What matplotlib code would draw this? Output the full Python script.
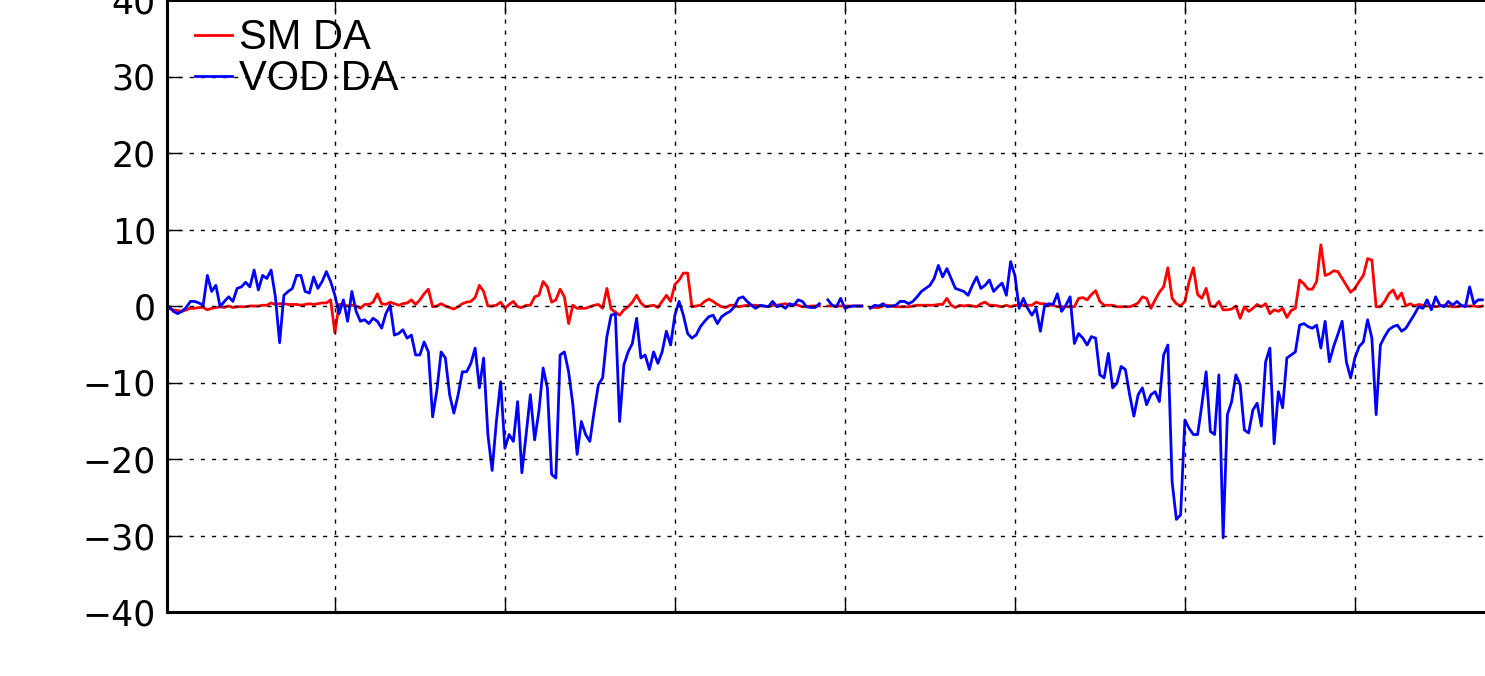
import matplotlib.pyplot as plt
import numpy as np

nan = np.nan

# SM DA series (one value per sample)
sm_da = [
    -0.3, -0.5, -0.6, -0.7, -0.5, -0.3, -0.3, -0.2, -0.2, -0.5,
    -0.3, -0.2, -0.1, -0.2, 0.0, -0.2, -0.1, -0.1, -0.1, 0.0,
    0.0, 0.0, 0.1, 0.1, 0.4, 0.2, 0.3, 0.3, 0.2, 0.2,
    0.2, 0.1, 0.2, 0.3, 0.2, 0.3, 0.4, 0.4, 0.8, -3.5,
    0.2, 0.2, 0.0, 0.1, 0.0, -0.3, 0.2, 0.2, 0.5, 1.6,
    0.3, 0.2, 0.5, 0.3, 0.1, 0.3, 0.4, 0.8, 0.2, 0.8,
    1.6, 2.2, -0.1, 0.0, 0.3, 0.0, -0.2, -0.4, -0.1, 0.3,
    0.5, 0.6, 1.1, 2.7, 1.9, 0.0, 0.0, 0.1, 0.5, -0.3,
    0.2, 0.6, -0.1, -0.2, 0.1, 0.1, 1.2, 1.4, 3.2, 2.5,
    0.5, 0.8, 2.2, 1.2, -2.3, 0.1, -0.3, -0.3, -0.3, -0.1,
    0.1, 0.2, -0.3, 2.3, -0.4, -0.8, -1.2, -0.5, -0.1, 0.5,
    1.4, 0.4, -0.1, 0.0, 0.1, -0.2, 0.6, 1.4, 0.6, 2.8,
    3.4, 4.3, 4.3, -0.1, 0.0, 0.1, 0.6, 0.9, 0.6, 0.2,
    -0.1, -0.2, 0.1, 0.1, -0.1, 0.0, 0.1, 0.1, 0.1, 0.0,
    0.0, -0.1, 0.1, 0.1, 0.2, 0.3, 0.1, 0.2, 0.1, -0.1,
    -0.1, 0.0, 0.0, 0.0, nan, 0.0, 0.0, 0.0, 0.0, 0.0,
    0.0, 0.0, 0.0, 0.0, nan, -0.2, -0.2, -0.2, 0.0, 0.1,
    0.0, -0.1, -0.1, -0.1, -0.1, 0.0, 0.1, 0.1, 0.1, 0.1,
    0.1, 0.2, 0.2, 1.0, 0.1, -0.2, 0.1, 0.0, 0.1, 0.0,
    -0.1, 0.3, 0.5, 0.1, 0.1, 0.0, -0.1, 0.1, -0.1, 0.1,
    0.1, 0.1, 0.1, 0.1, 0.5, 0.3, 0.3, 0.1, 0.1, -0.1,
    -0.1, -0.1, -0.1, -0.1, 1.0, 1.1, 0.8, 1.5, 2.0, 0.6,
    0.1, 0.1, 0.1, -0.1, -0.1, -0.1, -0.1, 0.1, 0.4, 1.2,
    1.0, -0.3, 0.8, 1.8, 2.5, 5.0, 1.0, 0.3, 0.0, 0.6,
    3.2, 5.0, 1.5, 1.0, 2.3, 0.0, -0.1, 0.6, -0.5, -0.5,
    -0.4, 0.0, -1.6, -0.1, -0.7, -0.3, 0.2, -0.1, 0.3, -1.0,
    -0.5, -0.7, -0.3, -1.5, -0.6, -0.3, 3.4, 2.9, 2.2, 2.2,
    3.2, 8.0, 4.0, 4.2, 4.6, 4.5, 3.6, 2.7, 1.8, 2.3,
    3.2, 4.0, 6.2, 6.0, -0.1, -0.1, 0.6, 1.6, 2.1, 0.9,
    1.7, 0.0, 0.3, 0.0, 0.2, 0.1, 0.0, 0.0, -0.1, 0.0,
    0.1, 0.0, -0.1, -0.1, 0.0, 0.0, 0.0, 0.0, -0.1, 0.0,
]

# VOD DA series
vod_da = [
    -0.1, -0.7, -1.0, -0.7, -0.2, 0.6, 0.6, 0.4, 0.1, 4.0,
    1.9, 2.7, -0.1, 0.6, 1.2, 0.6, 2.3, 2.5, 3.1, 2.5,
    4.7, 2.1, 4.0, 3.6, 4.7, 1.2, -4.8, 1.4, 1.9, 2.3,
    4.0, 4.0, 1.9, 1.7, 3.8, 2.3, 3.2, 4.5, 3.2, 1.4,
    -1.0, 0.8, -2.0, 1.9, -0.7, -2.0, -1.8, -2.3, -1.6, -2.0,
    -2.9, -1.0, 0.1, -3.8, -3.6, -3.1, -4.2, -3.8, -6.4, -6.4,
    -4.7, -6.0, -14.5, -11.0, -6.0, -6.8, -11.6, -14.0, -11.6, -8.6,
    -8.6, -7.5, -5.5, -10.7, -6.8, -16.8, -21.5, -15.1, -9.9, -18.6,
    -16.8, -17.7, -12.5, -21.8, -16.8, -11.6, -17.5, -13.8, -8.1, -10.7,
    -22.0, -22.5, -6.4, -6.0, -8.6, -12.9, -19.4, -15.1, -16.8, -17.7,
    -13.8, -10.3, -9.4, -4.0, -1.2, -1.0, -15.1, -7.7, -6.0, -4.9,
    -1.6, -6.8, -6.4, -8.3, -6.0, -7.5, -6.0, -3.3, -5.1, -1.2,
    0.6, -1.2, -3.6, -4.2, -3.8, -2.7, -2.0, -1.4, -1.2, -2.3,
    -1.4, -1.0, -0.7, -0.1, 1.0, 1.2, 0.6, 0.1, -0.3, 0.1,
    0.0, -0.1, 0.6, -0.1, 0.1, -0.3, 0.3, 0.1, 0.8, 0.6,
    -0.1, -0.2, -0.2, 0.3, nan, 0.8, 0.1, -0.1, 1.0, -0.3,
    -0.1, 0.0, 0.0, 0.0, nan, -0.3, 0.1, 0.0, 0.3, -0.1,
    0.0, 0.1, 0.6, 0.6, 0.3, 0.6, 1.2, 1.9, 2.3, 2.7,
    3.6, 5.3, 3.8, 4.9, 3.6, 2.3, 2.1, 1.9, 1.4, 2.7,
    3.8, 2.3, 2.7, 3.4, 1.9, 2.5, 3.0, 1.4, 5.8, 4.0,
    -0.3, 1.0, -0.3, -1.2, -0.3, -3.3, 0.1, 0.3, 0.2, 1.6,
    -0.7, 0.1, 1.2, -4.9, -3.6, -4.2, -5.1, -4.0, -4.2, -9.0,
    -9.4, -6.2, -10.7, -10.1, -7.9, -8.3, -11.6, -14.4, -11.6, -10.7,
    -12.9, -11.6, -11.2, -12.5, -6.4, -5.1, -23.0, -27.9, -27.3, -14.9,
    -16.0, -16.8, -16.8, -12.9, -8.6, -16.4, -16.8, -9.0, -30.3, -14.2,
    -12.5, -9.0, -10.3, -16.2, -16.6, -13.6, -12.7, -15.7, -7.3, -5.5,
    -18.0, -11.2, -13.3, -6.8, -6.4, -6.0, -2.5, -2.3, -2.7, -2.9,
    -2.5, -5.5, -2.0, -7.3, -5.3, -3.7, -2.0, -7.3, -9.4, -6.8,
    -5.3, -4.7, -1.8, -4.2, -14.2, -5.1, -4.0, -3.1, -2.7, -2.5,
    -3.3, -2.9, -2.0, -1.1, -0.1, -0.3, 0.8, -0.5, 1.2, 0.1,
    -0.1, 0.6, 0.1, 0.6, 0.1, -0.1, 2.5, 0.3, 0.8, 0.8,
]

y_ticks = [-40, -30, -20, -10, 0, 10, 20, 30, 40]
x_ticks = [40, 80, 120, 160, 200, 240, 280]

assert len(sm_da) == len(vod_da)
samples = np.arange(1, len(sm_da) + 1)

fig = plt.figure(figsize=(14.85, 6.76), dpi=100)
# axes run off the right edge of the canvas, like the original crop
ax = fig.add_axes([167 / 1485, 64 / 676, 1333 / 1485, 612 / 676])

ax.plot(samples, sm_da, color="red", lw=2.0, label="SM DA")
ax.plot(samples, vod_da, color="blue", lw=2.0, label="VOD DA")

ax.set_xlim(0.5, 0.5 + 1333 / 4.25)
ax.set_ylim(-40, 40)
ax.set_xticks(x_ticks)
ax.set_yticks(y_ticks)

ax.set_axisbelow(False)
ax.grid(True, color="black", linestyle=(0, (3, 5)), linewidth=1.0)

ax.tick_params(direction="in", length=10, width=1, top=True, right=True,
               labelsize=25, pad=8, labelbottom=False)
for sp in ax.spines.values():
    sp.set_linewidth(2.2)

ax.legend(loc="upper left", bbox_to_anchor=(0.021, 0.97), frameon=False,
          prop={"family": "Liberation Sans", "size": 30},
          handlelength=0.9, handletextpad=0.15, labelspacing=0.02,
          borderpad=0, borderaxespad=0)

fig.savefig("out.png", dpi=100)
